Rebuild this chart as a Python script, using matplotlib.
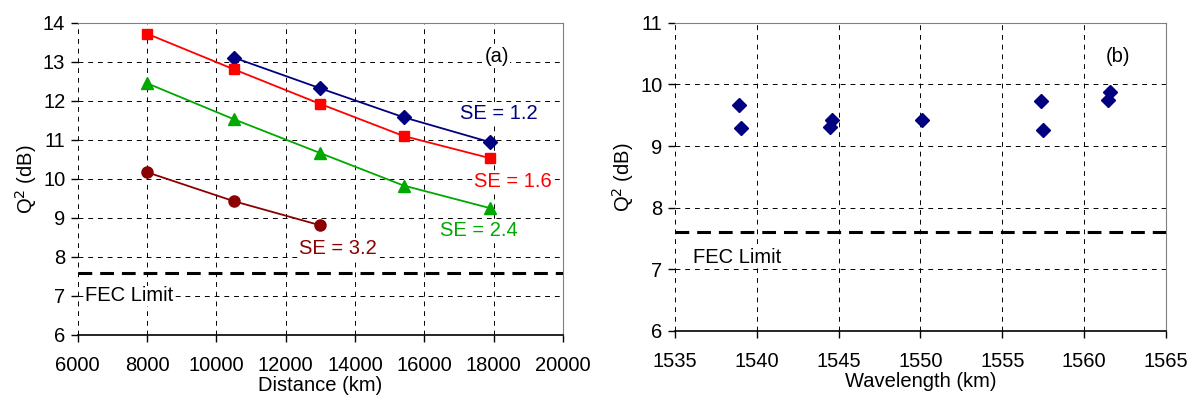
import matplotlib.pyplot as plt

plt.rcParams['font.family'] = ['Liberation Sans', 'DejaVu Sans']
plt.rcParams['font.size'] = 14.5

# (a) Q^2 vs distance for several spectral efficiencies
dist_12 = [10500, 13000, 15400, 17900]
q_12 = [13.11, 12.32, 11.58, 10.94]
dist_16 = [8000, 10500, 13000, 15400, 17900]
q_16 = [13.72, 12.81, 11.92, 11.10, 10.53]
dist_24 = [8000, 10500, 13000, 15400, 17900]
q_24 = [12.45, 11.53, 10.66, 9.83, 9.25]
dist_32 = [8000, 10500, 13000]
q_32 = [10.17, 9.43, 8.81]

# (b) Q^2 vs wavelength
wavelength = [1538.95, 1539.06, 1544.50, 1544.62, 1550.10, 1557.38, 1557.49, 1561.44, 1561.56]
q_wl = [9.67, 9.29, 9.31, 9.43, 9.43, 9.73, 9.26, 9.75, 9.88]

fec_limit = 7.6

navy = '#000080'
red = '#ff0000'
green = '#00a800'
darkred = '#8b0000'

white_box = dict(facecolor='white', edgecolor='none', pad=0.5)


def style_axes(ax):
    ax.grid(True, color='black', linewidth=0.7, linestyle=(0, (5, 5)))
    ax.set_axisbelow(True)
    ax.spines['left'].set_visible(False)
    ax.spines['top'].set_color('#808080')
    ax.spines['right'].set_color('#808080')
    ax.spines['bottom'].set_color('black')
    ax.spines['bottom'].set_linewidth(1.2)
    ax.tick_params(axis='y', direction='out', length=5, width=1, pad=4)
    ax.tick_params(axis='x', direction='out', length=5, width=1, pad=10)


fig = plt.figure(figsize=(11.89, 4), dpi=100)
ax1 = fig.add_axes([0.0654, 0.1625, 0.4081, 0.7805])
ax2 = fig.add_axes([0.5675, 0.1725, 0.4132, 0.7705])

# panel (a)
ax1.plot(dist_12, q_12, color=navy, marker='D', markersize=7, linewidth=1.3)
ax1.plot(dist_16, q_16, color=red, marker='s', markersize=7.5, linewidth=1.3)
ax1.plot(dist_24, q_24, color=green, marker='^', markersize=8.5, linewidth=1.3)
ax1.plot(dist_32, q_32, color=darkred, marker='o', markersize=8, linewidth=1.3)
ax1.axhline(fec_limit, color='black', linewidth=2.2, linestyle=(0, (4.5, 2.6)))

ax1.set_xlim(6000, 20000)
ax1.set_ylim(6, 14)
ax1.set_xticks(range(6000, 20001, 2000))
ax1.set_yticks(range(6, 15))
style_axes(ax1)
ax1.set_xlabel('Distance (km)', labelpad=1)
ax1.set_ylabel('Q$^2$ (dB)', labelpad=3)

ax1.text(18100, 13.13, '(a)', ha='center', va='center', bbox=white_box)
ax1.text(18150, 11.68, 'SE = 1.2', color=navy, ha='center', va='center', bbox=white_box)
ax1.text(18540, 9.93, 'SE = 1.6', color=red, ha='center', va='center', bbox=white_box)
ax1.text(17580, 8.69, 'SE = 2.4', color=green, ha='center', va='center', bbox=white_box)
ax1.text(13500, 8.22, 'SE = 3.2', color=darkred, ha='center', va='center', bbox=white_box)
ax1.text(6210, 7.0, 'FEC Limit', ha='left', va='center', bbox=white_box)

# panel (b)
ax2.plot(wavelength, q_wl, color=navy, marker='D', markersize=7, linestyle='none')
ax2.axhline(fec_limit, color='black', linewidth=2.2, linestyle=(0, (4.5, 2.6)))

ax2.set_xlim(1535, 1565)
ax2.set_ylim(6, 11)
ax2.set_xticks(range(1535, 1566, 5))
ax2.set_yticks(range(6, 12))
style_axes(ax2)
ax2.set_xlabel('Wavelength (km)', labelpad=1)
ax2.set_ylabel('Q$^2$ (dB)', labelpad=3)

ax2.text(1562.05, 10.45, '(b)', ha='center', va='center', bbox=white_box)
ax2.text(1536.1, 7.19, 'FEC Limit', ha='left', va='center', bbox=white_box)

fig.savefig('out.png', dpi=100)
